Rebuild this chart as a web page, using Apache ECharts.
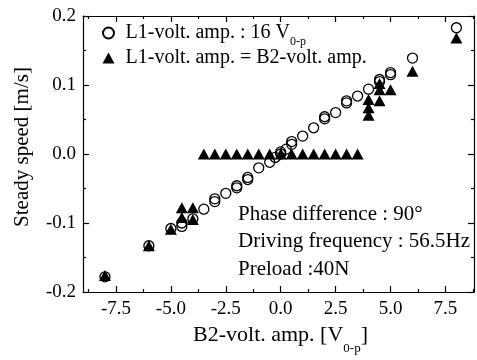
<!DOCTYPE html>
<html><head><meta charset="utf-8">
<script src="https://cdn.jsdelivr.net/npm/echarts@6/dist/echarts.min.js"></script>
<style>html,body{margin:0;padding:0;background:#fff}#c{width:477px;height:360px}</style>
</head><body><div id="c"></div>
<script>
// Series 1: L1-volt. amp. : 16 V0-p (open circles)
const circX = [-8, -6, -5, -4.5, -4.5, -4, -3.5, -3, -3, -2.5, -2, -2, -1.5, -1.5, -1, -0.5, -0.25, 0, 0, 0.25, 0.5, 0.5, 1, 1.5, 2, 2, 2.5, 3, 3, 3.5, 4, 4.5, 4.5, 5, 5, 6, 8];
const circY = [-0.178, -0.133, -0.108, -0.105, -0.100, -0.094, -0.080, -0.069, -0.065, -0.057, -0.049, -0.046, -0.037, -0.034, -0.020, -0.012, -0.005, 0.000, 0.003, 0.007, 0.014, 0.018, 0.026, 0.038, 0.051, 0.054, 0.060, 0.074, 0.077, 0.084, 0.094, 0.105, 0.108, 0.115, 0.118, 0.139, 0.183];
// Series 2: L1-volt. amp. = B2-volt. amp. (filled triangles)
const triX = [-8, -6, -5, -4.5, -4.5, -4, -4, -3.5, -3, -2.5, -2, -1.5, -1, -0.5, 0, 0.5, 1, 1.5, 2, 2.5, 3, 3.5, 4, 4, 4, 4.5, 4.5, 4.5, 5, 6, 8];
const triY = [-0.176, -0.133, -0.109, -0.078, -0.092, -0.078, -0.095, 0, 0, 0, 0, 0, 0, 0, 0, 0, 0, 0, 0, 0, 0, 0, 0.056, 0.067, 0.079, 0.077, 0.093, 0.102, 0.093, 0.120, 0.168];
const seriesNames = ['L1-volt. amp. : 16 V0-p', 'L1-volt. amp. = B2-volt. amp.'];
const xMajorTicks = [-7.5, -5, -2.5, 0, 2.5, 5, 7.5];
const xMajorLabels = ['-7.5', '-5.0', '-2.5', '0.0', '2.5', '5.0', '7.5'];
const xMinorTicks = [-8.75, -6.25, -3.75, -1.25, 1.25, 3.75, 6.25, 8.75];
const yTickValues = [-0.2, -0.1, 0, 0.1, 0.2];
const yTickLabels = ['-0.2', '-0.1', '0.0', '0.1', '0.2'];
const notes = ['Phase difference : 90°', 'Driving frequency : 56.5Hz', 'Preload :40N'];

const FONT = '"Liberation Serif","Times New Roman",serif';
const XMIN = -9, XMAX = 8.8, YMIN = -0.2, YMAX = 0.2;

const chart = echarts.init(document.getElementById('c'), null, {renderer: 'canvas'});
function xAx(pos, ticks, len, showLine, labels) {
  return {
    type: 'value', min: XMIN, max: XMAX, position: pos,
    axisLine: {show: showLine, onZero: false, lineStyle: {color: '#000', width: 1.2}},
    axisTick: {show: true, inside: true, length: len, customValues: ticks, lineStyle: {color: '#000', width: 1.2}},
    axisLabel: labels ? {show: true, customValues: ticks, margin: 8, color: '#000', fontFamily: FONT, fontSize: 19,
      formatter: v => { const i = xMajorTicks.findIndex(t => Math.abs(t - v) < 1e-6); return i >= 0 ? xMajorLabels[i] : ''; }} : {show: false},
    splitLine: {show: false}
  };
}
function yAx(pos, labels) {
  return {
    type: 'value', min: YMIN, max: YMAX, interval: 0.1, position: pos,
    axisLine: {show: true, onZero: false, lineStyle: {color: '#000', width: 1.2}},
    axisTick: {show: true, inside: true, length: 6, lineStyle: {color: '#000', width: 1.2}},
    minorTick: {show: true, splitNumber: 2, length: 3, lineStyle: {color: '#000', width: 1.2}},
    axisLabel: labels ? {show: true, margin: 7, color: '#000', fontFamily: FONT, fontSize: 19,
      formatter: v => { const i = yTickValues.findIndex(t => Math.abs(t - v) < 1e-6); return i >= 0 ? yTickLabels[i] : ''; }} : {show: false},
    splitLine: {show: false}, minorSplitLine: {show: false}
  };
}
const option = {
  backgroundColor: '#fff',
  animation: false,
  grid: {left: 83, right: 3, top: 16, bottom: 68},
  xAxis: [
    xAx('bottom', xMajorTicks, 6, true, true),
    xAx('bottom', xMinorTicks, 3, false, false),
    xAx('top', xMajorTicks, 6, true, false),
    xAx('top', xMinorTicks, 3, false, false)
  ],
  yAxis: [yAx('left', true), yAx('right', false)],
  legend: {
    orient: 'vertical', left: 97, top: 18, itemWidth: 12, itemHeight: 11, itemGap: 0,
    data: seriesNames,
    formatter: name => name === seriesNames[0]
      ? '{a|L1-volt. amp. : 16 V}{s|0-p}'
      : '{a|L1-volt. amp. = B2-volt. amp.}',
    textStyle: {color: '#000', rich: {
      a: {fontFamily: FONT, fontSize: 20, lineHeight: 30, color: '#000', padding: [0, 0, 0, 6]},
      s: {fontFamily: FONT, fontSize: 12, lineHeight: 8, verticalAlign: 'bottom', color: '#000'}
    }}
  },
  series: [
    {name: seriesNames[0], type: 'scatter', xAxisIndex: 0, yAxisIndex: 0, symbol: 'circle', symbolSize: 10,
      itemStyle: {color: 'rgba(255,255,255,0)', borderColor: '#000', borderWidth: 1.3, opacity: 1},
      data: circX.map((x, i) => [x, circY[i]])},
    {name: seriesNames[1], type: 'scatter', xAxisIndex: 0, yAxisIndex: 0, symbol: 'triangle', symbolSize: [12, 11],
      itemStyle: {color: '#000', opacity: 1},
      data: triX.map((x, i) => [x, triY[i]])}
  ],
  graphic: [
    ...notes.map((t, i) => ({type: 'text', x: 238, y: 214 + i * 27.5,
      style: {text: t, fill: '#000', font: '21px ' + FONT, align: 'left', verticalAlign: 'middle'}})),
    {type: 'text', x: 280.5, y: 335,
      style: {text: '{a|B2-volt. amp. [V}{s|0-p}{a|]}', align: 'center', verticalAlign: 'middle', fill: '#000',
        rich: {a: {fontFamily: FONT, fontSize: 22, lineHeight: 40, fill: '#000'},
               s: {fontFamily: FONT, fontSize: 13, lineHeight: 10, verticalAlign: 'bottom', fill: '#000'}}}},
    {type: 'text', x: 22, y: 147, rotation: Math.PI / 2,
      style: {text: 'Steady speed [m/s]', fill: '#000', font: '21px ' + FONT, align: 'center', verticalAlign: 'middle'}}
  ]
};
chart.setOption(option);
</script></body></html>
